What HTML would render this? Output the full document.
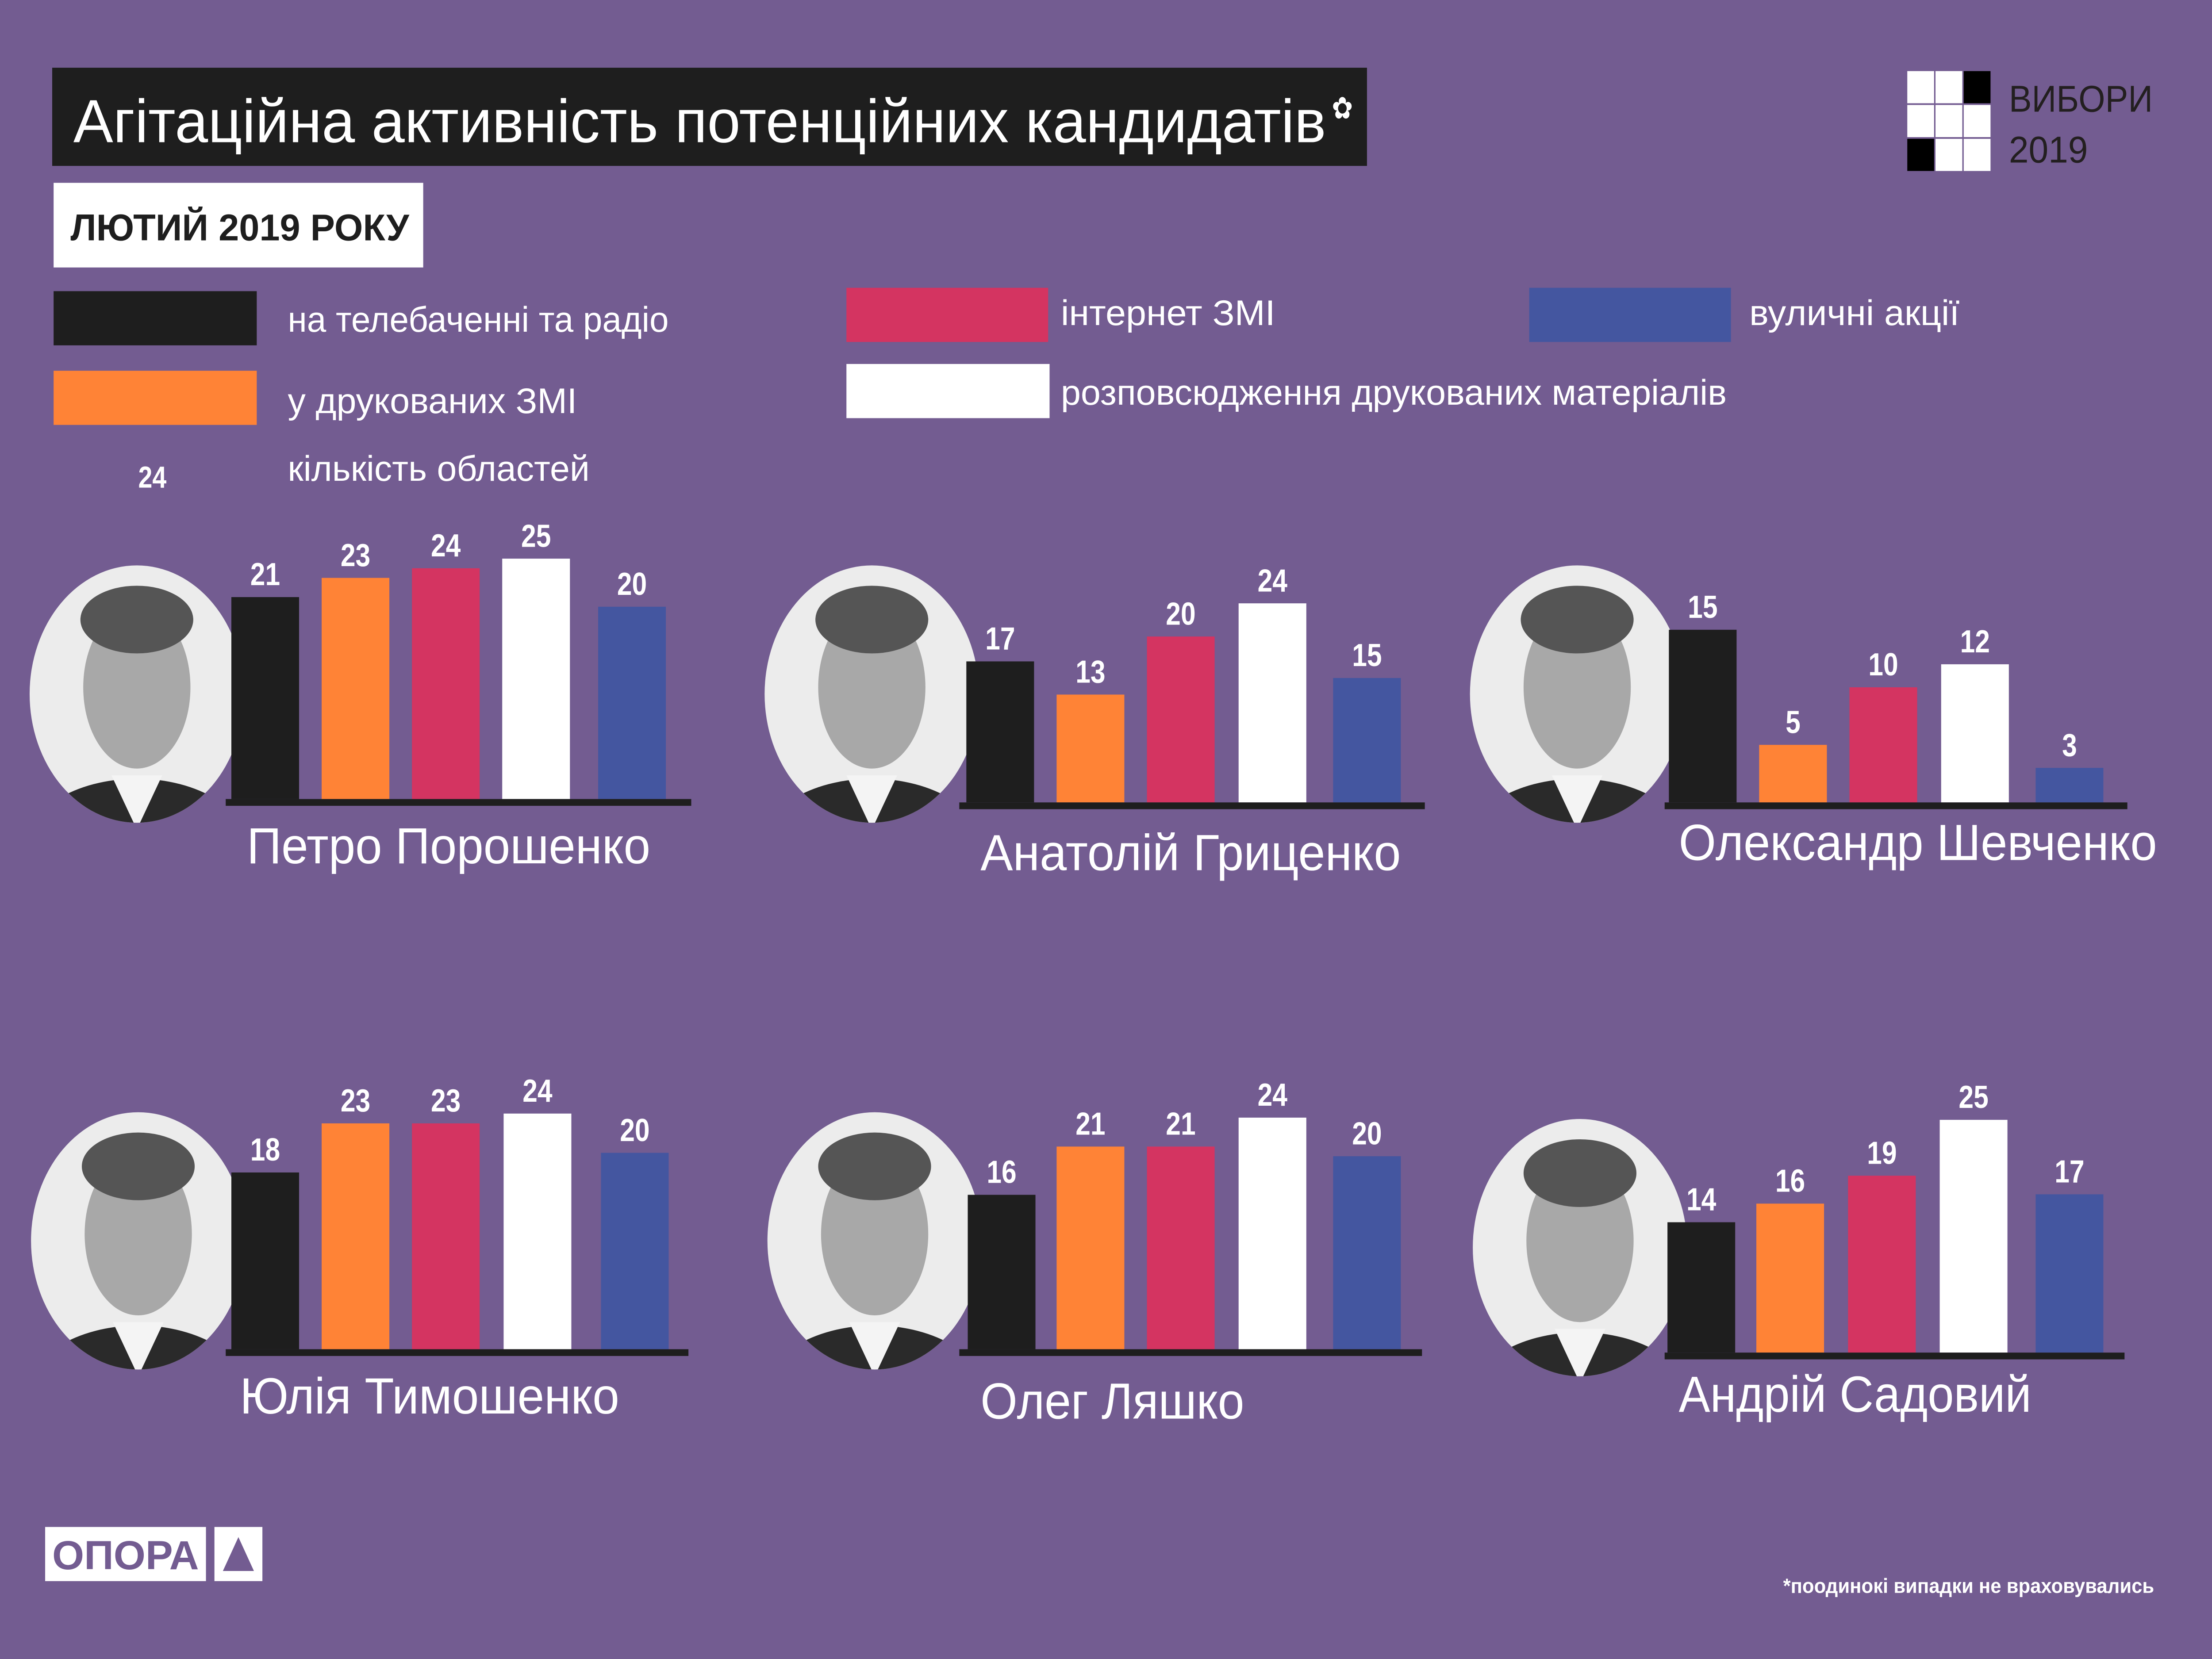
<!DOCTYPE html>
<html><head><meta charset="utf-8"><style>
html,body{margin:0;padding:0;background:#735c91;width:100%;height:100%;overflow:hidden;}
svg{display:block;width:100vw;height:100vh;}
text{font-family:"Liberation Sans","DejaVu Sans",sans-serif;}
</style></head><body>
<svg id="chart" viewBox="0 0 1568 980" preserveAspectRatio="none" xmlns="http://www.w3.org/2000/svg">
<rect x="0" y="0" width="1568" height="980" fill="#735c91"/>
<g>
<rect x="37" y="40" width="932" height="58" fill="#1e1e1e"/>
<text x="52" y="84" font-size="36" fill="#fff" textLength="888" lengthAdjust="spacingAndGlyphs">Агітаційна активність потенційних кандидатів</text>
<text x="944" y="70" font-size="18" fill="#fff">✿</text>
</g>
<g>
<rect x="38" y="108" width="262" height="50" fill="#fff"/>
<text x="50" y="142" font-size="22" font-weight="bold" fill="#1e1e1e" textLength="240" lengthAdjust="spacingAndGlyphs">ЛЮТИЙ 2019 РОКУ</text>
</g>
<g>
<rect x="1352" y="42" width="19" height="19" fill="#fff"/><rect x="1372" y="42" width="19" height="19" fill="#fff"/><rect x="1392" y="42" width="19" height="19" fill="#000"/>
<rect x="1352" y="62" width="19" height="19" fill="#fff"/><rect x="1372" y="62" width="19" height="19" fill="#fff"/><rect x="1392" y="62" width="19" height="19" fill="#fff"/>
<rect x="1352" y="82" width="19" height="19" fill="#000"/><rect x="1372" y="82" width="19" height="19" fill="#fff"/><rect x="1392" y="82" width="19" height="19" fill="#fff"/>
<text x="1424" y="66" font-size="22" fill="#231f20" textLength="102" lengthAdjust="spacingAndGlyphs">ВИБОРИ</text>
<text x="1424" y="96" font-size="22" fill="#231f20" textLength="56" lengthAdjust="spacingAndGlyphs">2019</text>
</g>
<g>
<g><rect x="38" y="172" width="144" height="32" fill="#1e1e1e"/><text x="204" y="196" font-size="21" fill="#fff" textLength="270" lengthAdjust="spacingAndGlyphs">на телебаченні та радіо</text></g>
<g><rect x="38" y="219" width="144" height="32" fill="#ff8336"/><text x="204" y="244" font-size="21" fill="#fff" textLength="205" lengthAdjust="spacingAndGlyphs">у друкованих ЗМІ</text></g>
<g><text x="108" y="288" font-size="18" font-weight="bold" fill="#fff" text-anchor="middle">24</text><text x="204" y="284" font-size="21" fill="#fff" textLength="214" lengthAdjust="spacingAndGlyphs">кількість областей</text></g>
<g><rect x="600" y="170" width="143" height="32" fill="#d43461"/><text x="752" y="192" font-size="21" fill="#fff" textLength="152" lengthAdjust="spacingAndGlyphs">інтернет ЗМІ</text></g>
<g><rect x="600" y="215" width="144" height="32" fill="#ffffff"/><text x="752" y="239" font-size="21" fill="#fff" textLength="472" lengthAdjust="spacingAndGlyphs">розповсюдження друкованих матеріалів</text></g>
<g><rect x="1084" y="170" width="143" height="32" fill="#4456a0"/><text x="1240" y="192" font-size="21" fill="#fff" textLength="149" lengthAdjust="spacingAndGlyphs">вуличні акції</text></g>
</g>
<g id="panels"></g>
<g>
<rect x="32" y="902" width="114" height="32" fill="#fff"/>
<text x="89" y="927" font-size="24" font-weight="bold" fill="#735c91" text-anchor="middle" textLength="104" lengthAdjust="spacingAndGlyphs">ОПОРА</text>
<rect x="152" y="902" width="34" height="32" fill="#fff"/>
<polygon points="169,908 180,928 158,928" fill="#735c91"/>
</g>
<text x="1264" y="941" font-size="12" font-weight="bold" fill="#fff" textLength="263" lengthAdjust="spacingAndGlyphs">*поодинокі випадки не враховувались</text>
</svg>
<script>
const categories = ["на телебаченні та радіо","у друкованих ЗМІ","інтернет ЗМІ","розповсюдження друкованих матеріалів","вуличні акції"];
const candidates = ["Петро Порошенко","Анатолій Гриценко","Олександр Шевченко","Юлія Тимошенко","Олег Ляшко","Андрій Садовий"];
const poroshenko = [21,23,24,25,20];
const grytsenko = [17,13,20,24,15];
const shevchenko = [15,5,10,12,3];
const tymoshenko = [18,23,23,24,20];
const lyashko = [16,21,21,24,20];
const sadovyi = [14,16,19,25,17];
const seriesValues = [poroshenko,grytsenko,shevchenko,tymoshenko,lyashko,sadovyi];

const colors = ["#1e1e1e","#ff8336","#d43461","#ffffff","#4456a0"];
const layout = [
  {bx:[164,228,292,356,424], base:472, k:5.68, ax:160, aw:330, cx:97, cy:410, nx:175, nw:286, ny:510},
  {bx:[685,749,813,878,945], base:474, k:4.9, ax:680, aw:330, cx:618, cy:410, nx:695, nw:298, ny:514},
  {bx:[1183,1247,1311,1376,1443], base:474, k:6.8, ax:1180, aw:328, cx:1118, cy:410, nx:1190, nw:339, ny:508},
  {bx:[164,228,292,357,426], base:797, k:5.8, ax:160, aw:328, cx:98, cy:733, nx:170, nw:269, ny:835},
  {bx:[686,749,813,878,945], base:797, k:5.7, ax:680, aw:328, cx:620, cy:733, nx:695, nw:187, ny:838},
  {bx:[1182,1245,1310,1375,1443], base:799, k:5.5, ax:1180, aw:326, cx:1120, cy:737, nx:1190, nw:250, ny:834}
];
const NS = "http://www.w3.org/2000/svg";
const root = document.getElementById('panels');
function mk(tag, attrs, parent){const e=document.createElementNS(NS,tag);for(const k in attrs)e.setAttribute(k,attrs[k]);parent.appendChild(e);return e;}
function yScale(p,v){return layout[p].base - v*layout[p].k;}
candidates.forEach((name,p)=>{
  const L = layout[p];
  const g = mk('g',{},root);
  
  
  const ph = mk('g',{},g);
  
  
  const cp = mk('clipPath',{id:'cp'+p},ph);
  mk('circle',{cx:L.cx,cy:L.cy,r:76},cp);
  mk('circle',{cx:L.cx,cy:L.cy,r:76,fill:'#ececec'},ph);
  const inner = mk('g',{'clip-path':'url(#cp'+p+')'},ph);
  mk('ellipse',{cx:L.cx,cy:L.cy+92,rx:80,ry:42,fill:'#2a2a2a'},inner);
  mk('polygon',{points:(L.cx-18)+','+(L.cy+48)+' '+(L.cx+18)+','+(L.cy+48)+' '+L.cx+','+(L.cy+80),fill:'#f4f4f4'},inner);
  mk('ellipse',{cx:L.cx,cy:L.cy-4,rx:38,ry:48,fill:'#a8a8a8'},inner);
  mk('ellipse',{cx:L.cx,cy:L.cy-44,rx:40,ry:20,fill:'#555'},inner);
  seriesValues[p].forEach((v,i)=>{
    const y = yScale(p,v);
    const r = mk('rect',{x:L.bx[i],y:y,width:48,height:L.base-y,fill:colors[i]},g);
    
    
    const t = mk('text',{x:L.bx[i]+24,y:y-7,'font-size':19,'font-weight':'bold',fill:'#fff','text-anchor':'middle'},g);
    
    
    t.textContent = v;
  });
  const ax = mk('rect',{x:L.ax,y:L.base,width:L.aw,height:4,fill:'#1e1e1e'},g);
  
  
  const n = mk('text',{x:L.nx,y:L.ny,'font-size':30,fill:'#fff',textLength:L.nw,lengthAdjust:'spacingAndGlyphs'},g);
  
  
  n.textContent = name;
});
</script>
</body></html>
